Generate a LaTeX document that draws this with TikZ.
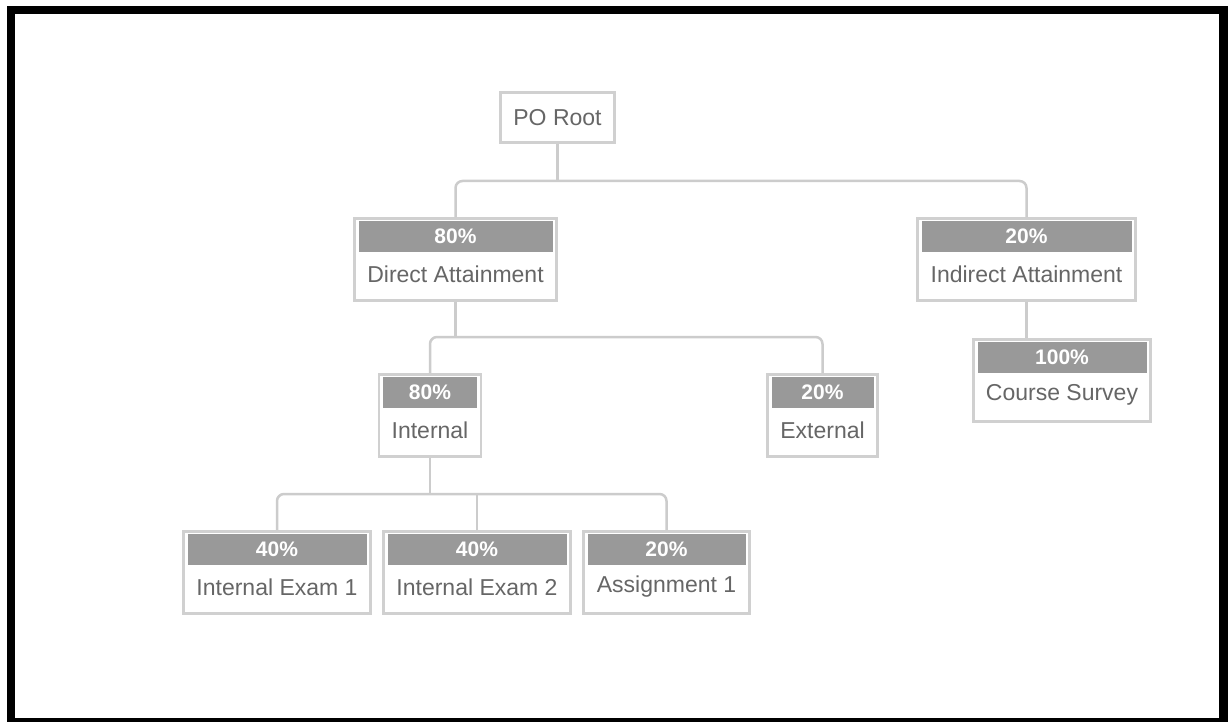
\documentclass[tikz,border=0pt]{standalone}
\usepackage{fontspec}
\setmainfont{Liberation Sans}
\definecolor{boxline}{HTML}{D0D0D0}
\definecolor{connline}{HTML}{CCCCCC}
\definecolor{barfill}{HTML}{999999}
\definecolor{txtgray}{HTML}{666666}
\tikzset{
  box/.style={draw=boxline, line width=2.5pt, fill=white, inner sep=0pt, rectangle},
  bar/.style={fill=barfill, inner sep=0pt, minimum height=31pt, text=white,
    font=\fontsize{21}{24}\selectfont\bfseries},
  lbl/.style={inner sep=0pt, text=txtgray, font=\fontsize{23}{27}\selectfont},
  conn/.style={draw=connline, line width=2.5pt},
  bus/.style={conn, rounded corners=7pt},
}
\newcommand\bnode[6]{%
  \node[box, minimum width=#4pt, minimum height=82pt, anchor=north] (#1) at (#2,#3) {};
  \node[bar, minimum width=#4pt-8pt, anchor=north] (#1p) at ([yshift=-4pt]#1.north) {#5};
  \node[lbl] (#1l) at ([yshift=-57pt]#1.north) {#6};
}
\begin{document}
\begin{tikzpicture}[x=1pt,y=-1pt]
\useasboundingbox (0,0) rectangle (1228,722);
\fill[black] (7,6) rectangle (1228,722);
\fill[white] (15,14) rectangle (1219,718);

\coordinate (b1) at (557.5,181);
\coordinate (b2) at (455.5,337);
\coordinate (b3) at (430,494);

\node[box, minimum width=114pt, minimum height=50pt, text=txtgray,
  font=\fontsize{23}{27}\selectfont] (root) at (557.5,117.5) {PO Root};

\bnode{da}{455.5}{217}{202}{80\%}{Direct Attainment}
\bnode{ia}{1026.5}{217}{218}{20\%}{Indirect Attainment}
\bnode{cs}{1062}{338}{177}{100\%}{Course Survey}
\bnode{in}{430}{373}{102}{80\%}{Internal}
\bnode{ex}{822.5}{373}{110}{20\%}{External}
\bnode{ie1}{277}{530}{187}{40\%}{Internal Exam 1}
\bnode{ie2}{477}{530}{187}{40\%}{Internal Exam 2}
\bnode{a1}{666.5}{530}{166}{20\%}{Assignment 1}

\draw[conn] (root.south) -- (root.south |- b1);
\draw[bus] (da.north) |- (b1) -| (ia.north);

\draw[conn] (da.south) -- (da.south |- b2);
\draw[bus] (in.north) |- (b2) -| (ex.north);

\draw[conn] (ia.south) -- (ia.south |- cs.north);

\draw[conn] (in.south) -- (in.south |- b3);
\draw[bus] (ie1.north) |- (b3) -| (a1.north);
\draw[conn] (ie2.north) -- (ie2.north |- b3);
\end{tikzpicture}
\end{document}
